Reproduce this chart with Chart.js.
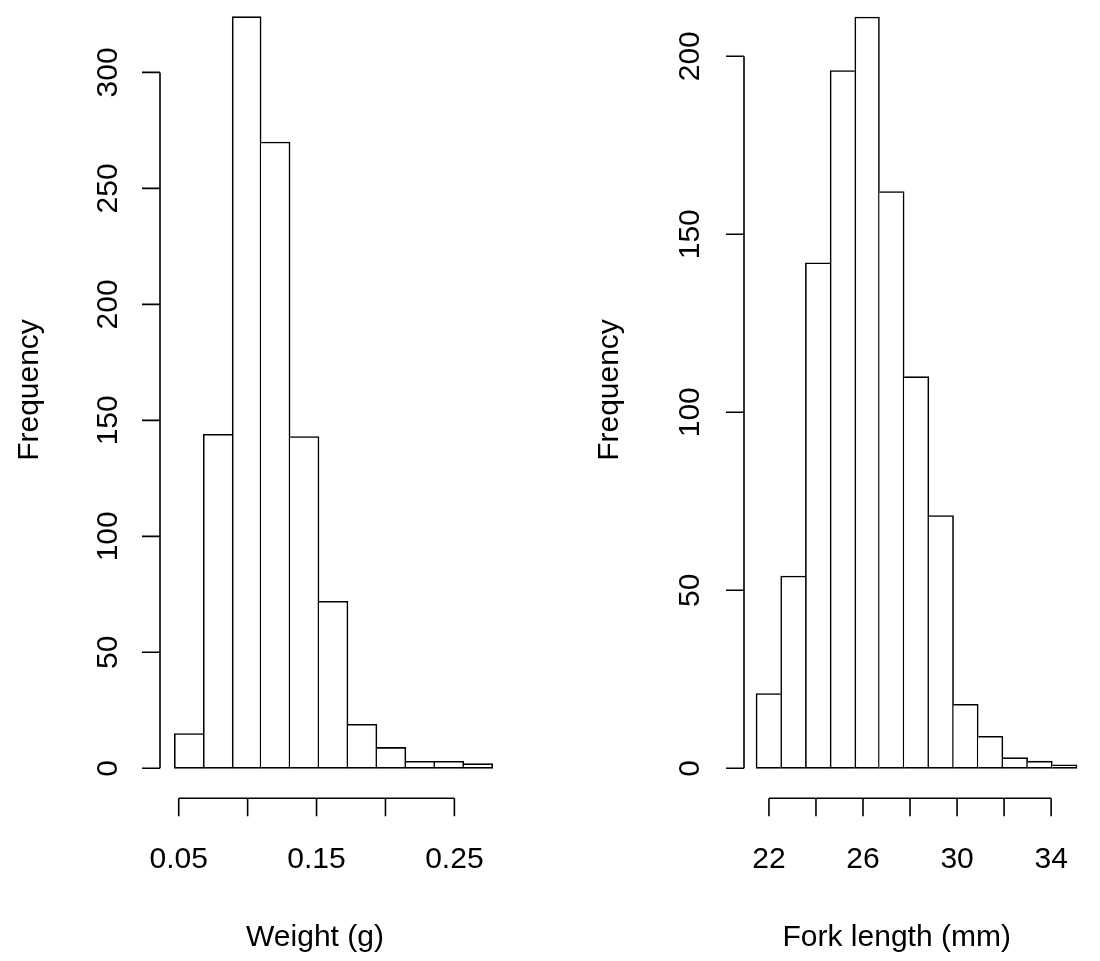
<!DOCTYPE html>
<html>
<head>
<meta charset="utf-8">
<title>Weight and fork length histograms</title>
<script src="https://cdn.jsdelivr.net/npm/chart.js@4.4.1/dist/chart.umd.min.js"></script>
<style>
    html, body { margin: 0; padding: 0; background: #fff; }
    #wrap { position: relative; width: 1100px; height: 961px; }
    #wrap canvas { position: absolute; top: 0; }
    #weightChart { left: 0; }
    #lengthChart { left: 550px; }
</style>
</head>
<body>
<div id="wrap">
    <canvas id="weightChart" width="550" height="961"></canvas>
    <canvas id="lengthChart" width="550" height="961"></canvas>
</div>
<script>
// Weight (g) histogram
const weightBreaks = [0.0468, 0.0678, 0.0888, 0.1098, 0.1308, 0.1518, 0.1728, 0.1938, 0.2148, 0.2358, 0.2568, 0.2778];
const weightCounts = [15, 144, 324, 270, 143, 72, 19, 9, 3, 3, 2];
const weightXTicks = [0.05, 0.10, 0.15, 0.20, 0.25];
const weightXLabels = ['0.05', '', '0.15', '', '0.25'];
const weightYTicks = [0, 50, 100, 150, 200, 250, 300];

// Fork length (mm) histogram
const lengthBreaks = [21.45, 22.5, 23.55, 24.6, 25.65, 26.7, 27.75, 28.8, 29.85, 30.9, 31.95, 33.0, 34.05, 35.1];
const lengthCounts = [21, 54, 142, 196, 211, 162, 110, 71, 18, 9, 3, 2, 1];
const lengthXTicks = [22, 24, 26, 28, 30, 32, 34];
const lengthXLabels = ['22', '', '26', '', '30', '', '34'];
const lengthYTicks = [0, 50, 100, 150, 200];

const FONT = '30px "Liberation Sans", Arial, sans-serif';
const LINE = 1.6;
const TICK = 18;

// R style axes: detached from the plot, lines only between first and last tick
const rAxes = {
    id: 'rAxes',
    afterDraw(chart, args, o) {
        const { ctx, chartArea, scales: { x, y } } = chart;
        const base = y.getPixelForValue(0);
        ctx.save();
        ctx.strokeStyle = '#000';
        ctx.fillStyle = '#000';
        ctx.lineWidth = LINE;
        ctx.font = FONT;

        // x axis
        const xa = base + o.xGap;
        const xt = x.ticks;
        ctx.beginPath();
        ctx.moveTo(x.getPixelForValue(xt[0].value), xa);
        ctx.lineTo(x.getPixelForValue(xt[xt.length - 1].value), xa);
        xt.forEach(t => {
            const px = x.getPixelForValue(t.value);
            ctx.moveTo(px, xa);
            ctx.lineTo(px, xa + TICK);
        });
        ctx.stroke();
        ctx.textAlign = 'center';
        ctx.textBaseline = 'alphabetic';
        xt.forEach(t => {
            if (t.label) ctx.fillText(t.label, x.getPixelForValue(t.value), o.xLabelY);
        });
        ctx.fillText(o.xTitle, o.xTitleX, o.xTitleY);

        // y axis
        const ya = chartArea.left - o.yGap;
        const yt = y.ticks;
        ctx.beginPath();
        ctx.moveTo(ya, y.getPixelForValue(yt[0].value));
        ctx.lineTo(ya, y.getPixelForValue(yt[yt.length - 1].value));
        yt.forEach(t => {
            const py = y.getPixelForValue(t.value);
            ctx.moveTo(ya, py);
            ctx.lineTo(ya - TICK, py);
        });
        ctx.stroke();
        yt.forEach(t => {
            ctx.save();
            ctx.translate(ya - o.yLabelGap, y.getPixelForValue(t.value));
            ctx.rotate(-Math.PI / 2);
            ctx.fillText(t.label, 0, 0);
            ctx.restore();
        });
        ctx.save();
        ctx.translate(o.yTitleX, o.yTitleY);
        ctx.rotate(-Math.PI / 2);
        ctx.fillText('Frequency', 0, 0);
        ctx.restore();

        ctx.restore();
    }
};

// shared edges are drawn once, by the taller neighbour
function edgeWidths(counts) {
    return (c) => {
        const i = c.dataIndex;
        const n = counts.length;
        const left = i === 0 ? LINE : (counts[i - 1] >= counts[i] ? 0 : LINE);
        const right = i === n - 1 ? LINE : (counts[i] >= counts[i + 1] ? LINE : 0);
        return { top: LINE, bottom: LINE, left, right };
    };
}

function makeHist(id, breaks, counts, xTicks, xLabels, yTicks, yMax, pad, axisOpts) {
    const data = counts.map((c, i) => ({ x: (breaks[i] + breaks[i + 1]) / 2, y: c }));
    return new Chart(document.getElementById(id), {
        type: 'bar',
        data: {
            datasets: [{
                data: data,
                backgroundColor: '#ffffff',
                borderColor: '#000000',
                borderWidth: edgeWidths(counts),
                borderSkipped: false,
                barPercentage: 1,
                categoryPercentage: 1,
                clip: false
            }]
        },
        options: {
            responsive: false,
            animation: false,
            devicePixelRatio: 1,
            layout: { padding: pad },
            plugins: {
                legend: { display: false },
                tooltip: { enabled: false },
                rAxes: axisOpts
            },
            scales: {
                x: {
                    type: 'linear',
                    display: false,
                    offset: false,
                    min: breaks[0],
                    max: breaks[breaks.length - 1],
                    afterBuildTicks: (s) => { s.ticks = xTicks.map(v => ({ value: v })); },
                    ticks: { callback: (v, i) => xLabels[i] }
                },
                y: {
                    display: false,
                    min: 0,
                    max: yMax,
                    afterBuildTicks: (s) => { s.ticks = yTicks.map(v => ({ value: v })); },
                    ticks: { callback: (v) => String(v) }
                }
            }
        },
        plugins: [rAxes]
    });
}

makeHist('weightChart', weightBreaks, weightCounts, weightXTicks, weightXLabels, weightYTicks, 331.2,
    { left: 174.3, right: 57.3, top: 0, bottom: 192.7 },
    { xGap: 30, xLabelY: 868, xTitle: 'Weight (g)', xTitleX: 315, xTitleY: 946,
      yGap: 14.3, yLabelGap: 43.5, yTitleX: 38, yTitleY: 390 });

makeHist('lengthChart', lengthBreaks, lengthCounts, lengthXTicks, lengthXLabels, lengthYTicks, 215.8,
    { left: 206, right: 23, top: 0, bottom: 192.7 },
    { xGap: 30, xLabelY: 868, xTitle: 'Fork length (mm)', xTitleX: 346.7, xTitleY: 946,
      yGap: 12, yLabelGap: 45.5, yTitleX: 68, yTitleY: 390 });
</script>
</body>
</html>
